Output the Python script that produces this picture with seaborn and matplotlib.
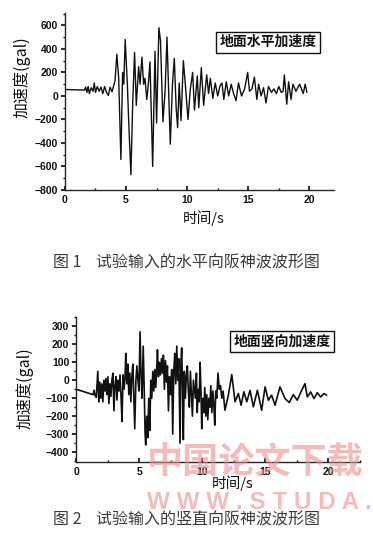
import numpy as np
import pandas as pd
import matplotlib
matplotlib.use('Agg')
import matplotlib.pyplot as plt
from matplotlib.ticker import MultipleLocator
import seaborn as sns

# horizontal ground acceleration (gal)
t_h = [0.0, 1.6, 1.7, 1.8, 1.9, 2.0, 2.15, 2.3, 2.4, 2.5, 2.65, 2.8, 2.95, 3.1, 3.25, 3.4,
       3.55, 3.7, 3.85, 4.0, 4.1, 4.25, 4.4, 4.58, 4.72, 4.82, 4.93, 5.1, 5.25, 5.4, 5.55,
       5.7, 5.84, 6.03, 6.15, 6.3, 6.44, 6.55, 6.7, 6.85, 6.96, 7.18, 7.37, 7.5, 7.69, 7.82,
       8.02, 8.2, 8.35, 8.62, 8.8, 8.95, 9.1, 9.22, 9.35, 9.5, 9.69, 9.85, 10.07, 10.25,
       10.45, 10.6, 10.83, 10.95, 11.16, 11.35, 11.6, 11.75, 11.9, 12.1, 12.3, 12.5, 12.7,
       12.85, 13.0, 13.2, 13.4, 13.6, 13.8, 14.0, 14.2, 14.45, 14.7, 14.95, 15.1, 15.3,
       15.5, 15.7, 15.85, 16.05, 16.25, 16.45, 16.65, 16.9, 17.1, 17.3, 17.5, 17.7, 17.85,
       17.95, 18.15, 18.3, 18.5, 18.65, 18.9, 19.2, 19.35, 19.5, 19.65, 19.8]
a_h = [55, 50, 75, 30, 80, 20, 70, 40, 110, 30, 80, 40, 75, 20, 80, 30,
       5, 75, 35, 90, 130, 355, 150, -540, 200, 100, 480, 120, -300, -670, -50,
       370, -80, 250, 100, 330, 100, 150, -30, 130, 290, -600, 380, -230, 580, 470,
       -220, 50, 500, -410, 100, 320, -100, -270, 110, -210, 300, 100, -200, 50,
       200, -120, 170, -100, 240, -80, 180, 20, 150, -20, 110, 0, 90,
       110, -30, 120, 0, 100, 20, -40, 110, 0, 60, 200, 40, 60,
       160, -30, 100, 0, 70, -60, 80, 30, 60, 20, 80, 30, 40,
       180, -70, 120, -30, 100, 40, 100, 60, 20, 100, 30]

# vertical ground acceleration (gal)
t_v = [0.0, 1.35, 1.42, 1.5, 1.6, 1.72, 1.8, 1.88, 1.96, 2.04, 2.12, 2.2, 2.28, 2.36, 2.44,
       2.52, 2.6, 2.68, 2.76, 2.84, 2.92, 3.0, 3.08, 3.16, 3.24, 3.32, 3.4, 3.48, 3.56, 3.64,
       3.72, 3.8, 3.88, 3.94, 4.02, 4.1, 4.18, 4.26, 4.34, 4.42, 4.5, 4.58, 4.65, 4.74, 4.82,
       4.9, 4.98, 5.07, 5.15, 5.23, 5.32, 5.4, 5.47, 5.52, 5.6, 5.68, 5.76, 5.84, 5.92, 6.0,
       6.08, 6.16, 6.24, 6.32, 6.4, 6.45, 6.53, 6.61, 6.69, 6.77, 6.85, 6.92, 7.0, 7.08, 7.16,
       7.24, 7.32, 7.4, 7.48, 7.58, 7.66, 7.74, 7.82, 7.9, 7.98, 8.06, 8.14, 8.24, 8.31, 8.37,
       8.44, 8.5, 8.58, 8.66, 8.74, 8.82, 8.9, 8.98, 9.06, 9.14, 9.22, 9.3, 9.38, 9.46, 9.54,
       9.6, 9.68, 9.76, 9.83, 9.9, 9.96, 10.04, 10.12, 10.2, 10.28, 10.36, 10.44, 10.52, 10.6,
       10.68, 10.76, 10.84, 10.92, 10.99, 11.07, 11.15, 11.25, 11.35, 11.45, 11.55, 11.65,
       11.8, 12.07, 12.34, 12.6, 12.86, 13.08, 13.3, 13.53, 13.79, 14.05, 14.37, 14.71, 14.98,
       15.24, 15.5, 15.77, 16.16, 16.56, 16.9, 17.22, 17.53, 17.88, 18.14, 18.33, 18.59, 18.86,
       19.12, 19.38, 19.65, 19.86]
a_v = [-50, -80, -55, -85, -95, 50, -120, -10, -100, -20, -120, 0, -60, 10, -80,
       20, -130, -20, -90, 0, 40, -170, -30, 20, -110, 0, -60, 30, -90, -230,
       30, -50, 20, 150, -20, 90, -80, 40, -120, 20, 90, -100, -270, 0, 80,
       0, -60, 270, 20, -100, 190, -50, -300, -360, -200, -320, -100, -280, 0, -100,
       50, -60, 60, -40, 80, 170, 20, 100, 30, 120, 40, 140, -50, 110, -10,
       80, -170, 20, -80, 60, -300, 50, 150, -20, 190, 0, 120, -350, 100, 180,
       -50, -330, 50, -100, 20, 80, -60, -150, 50, -80, -200, 0, -50, -100, 40,
       -180, -50, -120, 100, -60, -270, -100, -180, -40, -200, -80, -220, -100, -150,
       -30, -180, -60, -140, -250, -60, -100, 40, -50, -30, -100, -60,
       -167, -83, 32, -120, -74, -139, -64, -120, -56, -148, -56, -167, -37,
       -111, -83, -139, -37, -102, -124, -80, -111, -56, -19, -93, -65, -102,
       -69, -93, -74, -83]

assert len(t_h) == len(a_h), (len(t_h), len(a_h))
assert len(t_v) == len(a_v), (len(t_v), len(a_v))

sns.set_theme(style='ticks')
plt.rcParams['font.family'] = ['Noto Sans CJK SC', 'DejaVu Sans']
plt.rcParams['axes.linewidth'] = 1.0

fig = plt.figure(figsize=(3.73, 5.33), dpi=100)
ax1 = fig.add_axes([0.174, 0.6435, 0.721, 0.332])
ax2 = fig.add_axes([0.204, 0.1332, 0.761, 0.272])

# watermark (drawn first so that the plots sit on top)
fig.text(0.394, 0.131, '中国论文下载', ha='left', va='center', fontsize=26,
         fontweight='bold', color='#ef8f8f', alpha=0.6, zorder=0)
fig.text(0.394, 0.057, 'W W W . S T U D A .', ha='left', va='center', fontsize=17.5,
         fontweight='bold', color='#ef8f8f', alpha=0.6, zorder=0,
         family=['Liberation Sans', 'DejaVu Sans'])

df_h = pd.DataFrame({'t': t_h, 'a': a_h})
df_v = pd.DataFrame({'t': t_v, 'a': a_v})
sns.lineplot(data=df_h, x='t', y='a', ax=ax1, color='#111111', lw=1.0, sort=False)
sns.lineplot(data=df_v, x='t', y='a', ax=ax2, color='#111111', lw=1.2, sort=False)


def style(ax, ylim, ymaj, ymin, xlim, box, boxpos, xl, yl):
    ax.patch.set_alpha(0)
    ax.set_xlim(*xlim)
    ax.set_ylim(*ylim)
    ax.xaxis.set_major_locator(MultipleLocator(5))
    ax.xaxis.set_minor_locator(MultipleLocator(2.5))
    ax.yaxis.set_major_locator(MultipleLocator(ymaj))
    ax.yaxis.set_minor_locator(MultipleLocator(ymin))
    ax.tick_params(axis='x', which='both', direction='in', colors='#111111', labelsize=7.5)
    ax.tick_params(axis='x', which='major', length=3)
    ax.tick_params(axis='x', which='minor', length=1.5)
    ax.tick_params(axis='y', which='both', direction='out', colors='#111111', labelsize=7.5)
    ax.tick_params(axis='y', which='major', length=3, pad=2)
    ax.tick_params(axis='y', which='minor', length=1.5)
    for lab in ax.get_xticklabels() + ax.get_yticklabels():
        lab.set_family(['Liberation Sans', 'DejaVu Sans'])
        lab.set_fontweight('bold')
    sns.despine(ax=ax)
    ax.set_xlabel('时间/s', fontsize=10.5, color='#111111')
    ax.set_ylabel('加速度(gal)', fontsize=11.5, color='#111111')
    ax.xaxis.set_label_coords(*xl)
    ax.xaxis.label.set_va('center')
    ax.yaxis.set_label_coords(*yl)
    ax.yaxis.label.set_va('center')
    ax.text(boxpos[0], boxpos[1], box, transform=ax.transAxes, ha='center', va='center',
            fontsize=10, fontweight='bold', color='#111111',
            bbox=dict(boxstyle='square,pad=0.25', fc='white', ec='#111111', lw=1.0))


style(ax1, (-800, 705), 200, 100, (0, 22), '地面水平加速度', (0.755, 0.836),
      (0.517, -0.158), (-0.16, 0.638))
style(ax2, (-455, 352), 100, 50, (0, 22.5), '地面竖向加速度', (0.725, 0.83),
      (0.553, -0.145), (-0.18, 0.51))

# figure captions
fig.text(0.5, 0.507, '图 1    试验输入的水平向阪神波波形图', ha='center', va='center',
         fontsize=11.5, color='#3a3a3a')
fig.text(0.5, 0.0244, '图 2    试验输入的竖直向阪神波波形图', ha='center', va='center',
         fontsize=11.5, color='#3a3a3a')

fig.savefig('out.png', dpi=100, facecolor='white')
